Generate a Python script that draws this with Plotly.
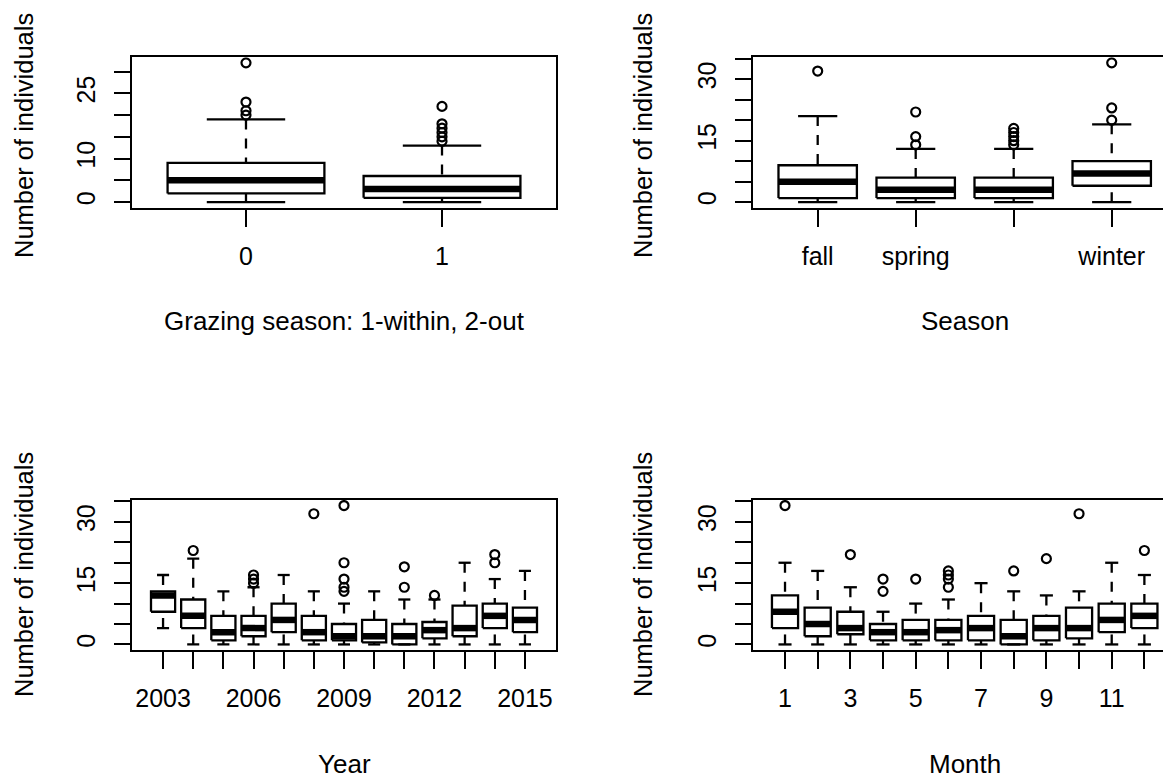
import plotly.graph_objects as go

W, H = 1171, 779
OFF = 8  # default page margin around the figure div

# ---------------- data ----------------
graze_labels = ["0", "1"]
graze_q1 = [2, 1]
graze_med = [5, 3]
graze_q3 = [9, 6]
graze_lo = [0, 0]
graze_hi = [19, 13]
graze_out = [[20, 21, 23, 32], [14, 15, 16, 17, 18, 22]]

season_labels = ["fall", "spring", "", "winter"]   # "summer" label hidden by overlap in original
season_q1 = [1, 1, 1, 4]
season_med = [5, 3, 3, 7]
season_q3 = [9, 6, 6, 10]
season_lo = [0, 0, 0, 0]
season_hi = [21, 13, 13, 19]
season_out = [[32], [14, 16, 22], [14, 15, 16, 17, 18], [20, 23, 34]]

year_labels = ["2003", "", "", "2006", "", "", "2009", "", "", "2012", "", "", "2015"]
year_q1 = [8, 4, 1, 2, 3, 1, 1, 0.5, 0, 1.5, 2, 4, 3]
year_med = [12, 7, 3, 4, 6, 3, 2, 2, 2, 3.5, 4, 7, 6]
year_q3 = [13, 11, 7, 7, 10, 7, 5, 6, 5, 5.5, 9.5, 10, 9]
year_lo = [4, 0, 0, 0, 0, 0, 0, 0, 0, 0, 0, 0, 0]
year_hi = [17, 21, 13, 14, 17, 13, 10, 13, 11, 11, 20, 16, 18]
year_out = [[], [23], [], [15, 16, 17], [], [32], [13, 14, 16, 20, 34], [], [14, 19], [12], [], [20, 22], []]

month_labels = ["1", "", "3", "", "5", "", "7", "", "9", "", "11", ""]
month_q1 = [4, 2, 2.5, 1, 1, 1, 1, 0, 1, 1.5, 3, 4]
month_med = [8, 5, 4, 3, 3, 3.5, 4, 2, 4, 4, 6, 7]
month_q3 = [12, 9, 8, 5, 6, 6, 7, 6, 7, 9, 10, 10]
month_lo = [0, 0, 0, 0, 0, 0, 0, 0, 0, 0, 0, 0]
month_hi = [20, 18, 14, 8, 10, 11, 15, 13, 12, 13, 20, 17]
month_out = [[34], [], [22], [13, 16], [16], [14, 16, 17, 18], [], [18], [21], [32], [], [23]]

y_tickvals_tl = [0, 5, 10, 15, 20, 25, 30]
y_ticktext_tl = ["0", "", "10", "", "", "25", ""]
y_tickvals = [0, 5, 10, 15, 20, 25, 30, 35]
y_ticktext = ["0", "", "", "15", "", "", "30", ""]

ylab = "Number of individuals"

# ---------------- style ----------------
FONT = "Liberation Sans, Arial, sans-serif"
FS_TICK = 25
FS_TITLE = 26
FS_YTITLE = 25.5
LW = 2.3
BLACK = "#000000"

FW, FH = W - OFF, H - OFF

fig = go.Figure()


def px_x(p):
    return (p - OFF) / FW


def px_y(p):
    return 1 - (p - OFF) / FH


def add_boxes(xa, ya, q1, med, q3, lo, hi, outs):
    n = len(q1)
    pos = list(range(1, n + 1))
    wx, wy, sx, sy, bx, by, mx, my, ox, oy = [], [], [], [], [], [], [], [], [], []
    for p, a, m, b, l, h, o in zip(pos, q1, med, q3, lo, hi, outs):
        wx += [p, p, None, p, p, None]
        wy += [h, b, None, l, a, None]
        sx += [p - 0.2, p + 0.2, None, p - 0.2, p + 0.2, None]
        sy += [h, h, None, l, l, None]
        bx += [p - 0.4, p + 0.4, p + 0.4, p - 0.4, p - 0.4, None]
        by += [a, a, b, b, a, None]
        mx += [p - 0.4, p + 0.4, None]
        my += [m, m, None]
        ox += [p] * len(o)
        oy += list(o)
    common = dict(xaxis=xa, yaxis=ya, showlegend=False, hoverinfo="skip")
    fig.add_trace(go.Scatter(x=wx, y=wy, mode="lines",
                             line=dict(color=BLACK, width=LW, dash="10px,9px"), **common))
    fig.add_trace(go.Scatter(x=sx, y=sy, mode="lines",
                             line=dict(color=BLACK, width=LW), **common))
    fig.add_trace(go.Scatter(x=bx, y=by, mode="lines",
                             line=dict(color=BLACK, width=LW), **common))
    fig.add_trace(go.Scatter(x=mx, y=my, mode="lines",
                             line=dict(color=BLACK, width=6.5), **common))
    fig.add_trace(go.Scatter(x=ox, y=oy, mode="markers",
                             marker=dict(symbol="circle-open", size=9, color=BLACK,
                                         line=dict(width=2.2, color=BLACK)), **common))


add_boxes("x", "y", graze_q1, graze_med, graze_q3, graze_lo, graze_hi, graze_out)
add_boxes("x2", "y2", season_q1, season_med, season_q3, season_lo, season_hi, season_out)
add_boxes("x3", "y3", year_q1, year_med, year_q3, year_lo, year_hi, year_out)
add_boxes("x4", "y4", month_q1, month_med, month_q3, month_lo, month_hi, month_out)

# geometry (target pixels in the window)
L_left, L_right = 132.3, 555.7
PW = L_right - L_left
R_left = 753.0
T_top, T_bot = 57.3, 207.7
B_top, B_bot = 500.0, 650.0


def xaxis(domain, rng, labels):
    return dict(domain=domain, range=rng, tickmode="array",
                tickvals=list(range(1, len(labels) + 1)), ticktext=labels,
                ticks="outside", ticklen=17, tickwidth=LW, tickcolor=BLACK,
                showline=True, mirror=True, linewidth=LW, linecolor=BLACK,
                showgrid=False, zeroline=False, ticklabelstandoff=8,
                tickfont=dict(family=FONT, size=FS_TICK, color=BLACK), fixedrange=True)


def yaxis(domain, rng, vals, text, mirror):
    return dict(domain=domain, range=rng, tickmode="array", tickvals=vals, ticktext=text,
                tickangle=-90, ticks="outside", ticklen=16, tickwidth=LW, tickcolor=BLACK,
                showline=True, mirror=mirror, linewidth=LW, linecolor=BLACK,
                showgrid=False, zeroline=False, ticklabelstandoff=9,
                tickfont=dict(family=FONT, size=FS_TICK, color=BLACK), fixedrange=True)


ppu_tr = PW / 4.32
ppu_br = PW / 12.96

top_dom = [px_y(T_bot), px_y(T_top)]
bot_dom = [px_y(B_bot), px_y(B_top)]

fig.update_layout(
    width=FW, height=FH, autosize=False,
    margin=dict(l=0, r=0, t=0, b=0),
    paper_bgcolor="white", plot_bgcolor="white",
    font=dict(family=FONT, size=FS_TICK, color=BLACK),
    xaxis=xaxis([px_x(L_left), px_x(L_right)], [0.42, 2.58], graze_labels),
    yaxis=yaxis(top_dom, [-1.28, 33.28], y_tickvals_tl, y_ticktext_tl, True),
    xaxis2=xaxis([px_x(R_left), 1.0], [0.34, 0.34 + (W - R_left) / ppu_tr], season_labels),
    yaxis2=yaxis(top_dom, [-1.36, 35.36], y_tickvals, y_ticktext, False),
    xaxis3=xaxis([px_x(L_left), px_x(L_right)], [-0.02, 14.02], year_labels),
    yaxis3=yaxis(bot_dom, [-1.36, 35.36], y_tickvals, y_ticktext, True),
    xaxis4=xaxis([px_x(R_left), 1.0], [0.02, 0.02 + (W - R_left) / ppu_br], month_labels),
    yaxis4=yaxis(bot_dom, [-1.36, 35.36], y_tickvals, y_ticktext, False),
)
fig.update_layout(xaxis2_anchor="y2", yaxis2_anchor="x2",
                  xaxis3_anchor="y3", yaxis3_anchor="x3",
                  xaxis4_anchor="y4", yaxis4_anchor="x4")

R_center = R_left + PW / 2
L_center = L_left + PW / 2
titles = [
    ("Grazing season: 1-within, 2-out", L_center, 321, 0, FS_TITLE),
    ("Season", R_center, 321, 0, FS_TITLE),
    ("Year", L_center, 764, 0, FS_TITLE),
    ("Month", R_center, 764, 0, FS_TITLE),
    (ylab, 24, 136, -90, FS_YTITLE),
    (ylab, 643, 136, -90, FS_YTITLE),
    (ylab, 24, (B_top + B_bot) / 2, -90, FS_YTITLE),
    (ylab, 643, (B_top + B_bot) / 2, -90, FS_YTITLE),
]
for txt, x, y, ang, fs in titles:
    fig.add_annotation(text=txt, x=px_x(x), y=px_y(y), xref="paper", yref="paper",
                       showarrow=False, textangle=ang, xanchor="center", yanchor="middle",
                       font=dict(family=FONT, size=fs, color=BLACK))

fig.write_html("out.html", config={"displayModeBar": False})
